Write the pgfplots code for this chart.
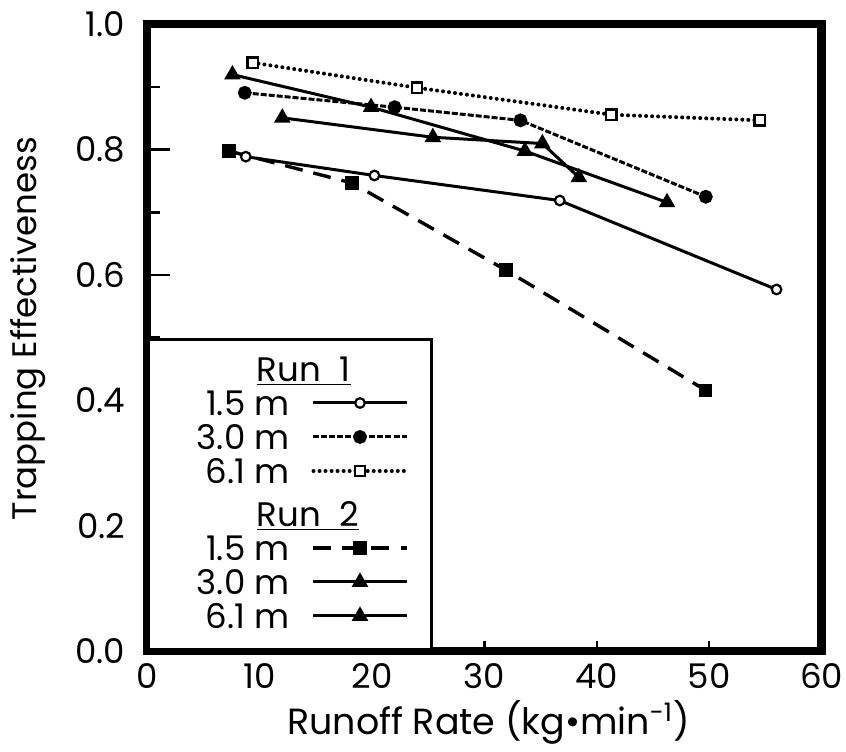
\documentclass[border=0pt]{standalone}
\usepackage{fontspec}
\setmainfont{Poppins}
\usepackage{pgfplots}
\pgfplotsset{compat=1.18}
\newcommand\ff{\fontsize{17pt}{20pt}\selectfont}
\pgfplotsset{
  myleg/.style={legend image code/.code={%
    \draw[mark repeat=2,mark phase=2,##1] plot coordinates {(0pt,1pt)(23.25pt,1pt)(46.5pt,1pt)};
    \path[draw=none,fill=none] (0pt,1pt) -- (59pt,1pt);}},
}
\begin{document}
\begin{tikzpicture}
\begin{axis}[
  scale only axis,
  width=337pt, height=313.25pt,
  xmin=0, xmax=60, ymin=0, ymax=1,
  axis line style={line width=4pt, line cap=rect},
  xtick={0,10,...,60},
  ytick={0,0.2,0.4,0.6,0.8,1.0},
  minor ytick={0.1,0.3,0.5,0.7,0.9},
  tick align=inside,
  xtick pos=bottom, ytick pos=left,
  major tick length=11pt, minor tick length=6pt,
  tick style={line width=1.3pt, black},
  xtick style={/pgfplots/major tick length=5pt},
  /pgf/number format/assume math mode=true,
  tick label style={font=\ff},
  yticklabel style={/pgf/number format/.cd, fixed, fixed zerofill, precision=1, /tikz/.cd, anchor=east, inner sep=0pt, xshift=-11pt},
  xticklabel style={anchor=north, inner sep=0pt, yshift=-6pt},
  xlabel={Runoff Rate (kg•min\textsuperscript{-1})},
  ylabel={Trapping Effectiveness},
  every axis x label/.style={at={(rel axis cs:0.5,0)}, anchor=center, xshift=2pt, yshift=-35.5pt, font=\fontsize{18.2pt}{21pt}\selectfont},
  every axis y label/.style={at={(rel axis cs:0,0.5)}, anchor=center, rotate=90, xshift=4.5pt, yshift=59.5pt, font=\ff},
  legend style={at={(rel axis cs:0,0)}, anchor=south west, draw=black, line width=1.5pt, fill=white,
    inner xsep=0pt, inner ysep=8.5pt, font=\ff, row sep=2.5pt, column sep=11pt,
    nodes={inner sep=0pt, text height=12.5pt, text depth=2pt}},
  legend plot pos=right,
]
\addlegendimage{empty legend}
\addlegendentry{\makebox[70.25pt][l]{\hspace{54pt}\underline{Run\hspace{0.55em}1}}}
% Run 1, 1.5 m
\addplot[myleg, black, line width=1.5pt, mark=*, mark size=2.4pt, mark options={solid, fill=white, line width=1.1pt}]
  coordinates {(8.75,0.789) (20.2,0.759) (36.7,0.719) (56.0,0.577)};
\addlegendentry{\makebox[70.25pt][r]{1.5 m}}
% Run 1, 3.0 m
\addplot[myleg, black, line width=1.5pt, dash pattern=on 3pt off 1pt, mark=*, mark size=2.7pt, mark options={solid, fill=black}]
  coordinates {(8.66,0.891) (22.0,0.868) (33.2,0.847) (49.7,0.725)};
\addlegendentry{\makebox[70.25pt][r]{3.0 m}}
% Run 1, 6.1 m
\addplot[myleg, black, line width=2pt, line cap=round, dash pattern=on 0.01pt off 3pt, mark=square*, mark size=2.6pt, mark options={solid, fill=white, line width=1.2pt}]
  coordinates {(9.35,0.939) (24.0,0.899) (41.3,0.856) (54.5,0.847)};
\addlegendentry{\makebox[70.25pt][r]{6.1 m}}
\addlegendimage{empty legend}
\addlegendentry[text height=17pt]{\makebox[70.25pt][l]{\hspace{54pt}\underline{Run\hspace{0.55em}2}}}
% Run 2, 1.5 m
\addplot[myleg, black, line width=1.7pt, dash pattern=on 9pt off 5.5pt, mark=square*, mark size=2.5pt, mark options={solid, fill=black}]
  coordinates {(7.26,0.798) (18.2,0.747) (31.9,0.608) (49.7,0.416)};
\addlegendentry{\makebox[70.25pt][r]{1.5 m}}
% Run 2, 3.0 m
\addplot[myleg, black, line width=1.5pt, mark=triangle*, mark size=3.3pt, mark options={solid, fill=black}]
  coordinates {(12.0,0.851) (25.4,0.820) (35.15,0.810) (38.4,0.756)};
\addlegendentry{\makebox[70.25pt][r]{3.0 m}}
% Run 2, 6.1 m
\addplot[myleg, black, line width=1.5pt, mark=triangle*, mark size=3.3pt, mark options={solid, fill=black}]
  coordinates {(7.56,0.920) (19.9,0.868) (33.6,0.798) (46.25,0.716)};
\addlegendentry{\makebox[70.25pt][r]{6.1 m}}
\end{axis}
\pgfresetboundingbox
\path ([xshift=-73.75pt,yshift=-50.5pt]current axis.south west) rectangle ([xshift=12.25pt,yshift=12.25pt]current axis.north east);
\end{tikzpicture}
\end{document}
